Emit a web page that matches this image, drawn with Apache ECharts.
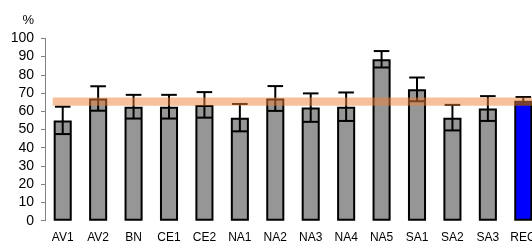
<!DOCTYPE html>
<html>
<head>
<meta charset="utf-8">
<script src="https://cdn.jsdelivr.net/npm/echarts@6/dist/echarts.min.js"></script>
<style>
  html, body { margin: 0; padding: 0; background: #fff; overflow: hidden; }
  /* plot runs past the right edge of the window, as in the reference */
  #chart { width: 541px; height: 244px; }
</style>
</head>
<body>
<div id="chart"></div>
<script>
// sites + region
const categories = ['AV1', 'AV2', 'BN', 'CE1', 'CE2', 'NA1', 'NA2', 'NA3', 'NA4', 'NA5', 'SA1', 'SA2', 'SA3', 'REG'];
const means = [55, 67, 62.5, 62.5, 63.5, 56.5, 67, 62, 62.5, 88.5, 72, 56.5, 61.5, 65.8];
const errors = [7.5, 6.7, 6.5, 6.5, 7, 7.5, 6.8, 7.8, 7.8, 4.5, 6.5, 7, 6.8, 2];
// regional band (low / high)
const bandLow = 63;
const bandHigh = 67.6;
const yTicks = [0, 100, 10]; // min, max, interval

const chart = echarts.init(document.getElementById('chart'));
const font = 'Liberation Sans, Arial, sans-serif';
const barFrac = 0.51;

const errData = means.map((m, i) => [i, m - errors[i], m + errors[i]]);

const option = {
    animation: false,
    grid: { left: 45, right: 0, top: 38.3, bottom: 23.3 },
    xAxis: {
        type: 'category',
        data: categories,
        axisLine: { show: false },
        axisTick: { show: false },
        axisLabel: { color: '#000', fontFamily: font, fontSize: 12, margin: 11, interval: 0 },
    },
    yAxis: {
        type: 'value',
        min: yTicks[0],
        max: yTicks[1],
        interval: yTicks[2],
        name: '%',
        nameLocation: 'end',
        nameGap: 11,
        nameTextStyle: { color: '#000', fontFamily: font, fontSize: 13, align: 'right', padding: [0, 11, 0, 0] },
        axisLine: { show: true, lineStyle: { color: '#808080', width: 1 } },
        axisTick: { show: true, length: 4, lineStyle: { color: '#808080' } },
        axisLabel: { color: '#000', fontFamily: font, fontSize: 14, margin: 11 },
        splitLine: { show: false },
    },
    series: [
        {
            type: 'bar',
            data: means,
            barWidth: (barFrac * 100) + '%',
            itemStyle: {
                color: (p) => (p.name === 'REG' ? '#0000ff' : '#969696'),
                borderColor: '#000',
                borderWidth: 2,
            },
            z: 2,
        },
        {
            type: 'custom',
            data: errData,
            z: 3,
            renderItem: (params, api) => {
                const x = api.value(0);
                const lo = api.coord([x, api.value(1)]);
                const hi = api.coord([x, api.value(2)]);
                const half = api.size([1, 0])[0] * 0.22;
                const style = { stroke: '#000', lineWidth: 2 };
                return {
                    type: 'group',
                    children: [
                        { type: 'line', shape: { x1: hi[0], y1: hi[1], x2: lo[0], y2: lo[1] }, style },
                        { type: 'line', shape: { x1: hi[0] - half, y1: hi[1], x2: hi[0] + half, y2: hi[1] }, style },
                        { type: 'line', shape: { x1: lo[0] - half, y1: lo[1], x2: lo[0] + half, y2: lo[1] }, style },
                    ],
                };
            },
        },
        {
            type: 'custom',
            data: [[0, bandLow, bandHigh]],
            z: 4,
            renderItem: (params, api) => {
                const top = api.coord([0, api.value(2)]);
                const bot = api.coord([0, api.value(1)]);
                const bw = api.size([1, 0])[0];
                const x0 = top[0] - bw * barFrac / 2 - 1;
                const cs = params.coordSys;
                return {
                    type: 'rect',
                    shape: { x: x0, y: top[1], width: cs.x + cs.width - x0, height: bot[1] - top[1] },
                    style: { fill: 'rgba(240, 130, 60, 0.5)' },
                };
            },
        },
    ],
};

chart.setOption(option);
</script>
</body>
</html>
